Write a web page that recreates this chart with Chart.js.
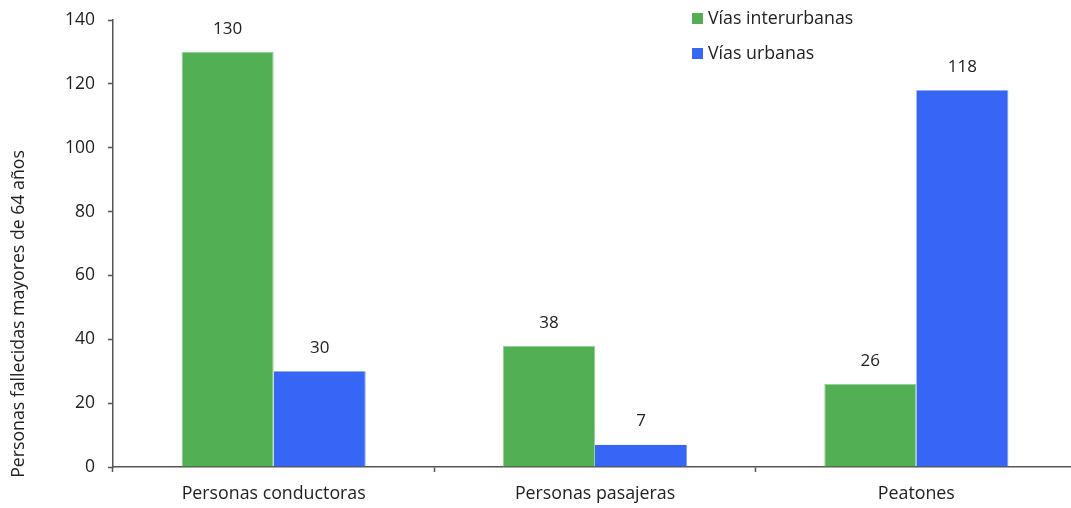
<!DOCTYPE html>
<html>
<head>
<meta charset="utf-8">
<script src="https://cdn.jsdelivr.net/npm/chart.js@4.4.0/dist/chart.umd.min.js"></script>
<style>
    html, body { margin: 0; padding: 0; background: #fff; overflow: hidden; }
    #wrap { position: relative; width: 1077px; height: 508px; }
</style>
</head>
<body>
<div id="wrap"><canvas id="chart" width="1077" height="508"></canvas></div>
<script>
// chart data
const categories = ['Personas conductoras', 'Personas pasajeras', 'Peatones'];
const seriesNames = ['Vías interurbanas', 'Vías urbanas'];
const interurbanas = [130, 38, 26];
const urbanas = [30, 7, 118];
const yTicks = [0, 20, 40, 60, 80, 100, 120, 140];
const yTitle = 'Personas fallecidas mayores de 64 años';

const FONT = '"Open Sans", sans-serif';
const TEXT = '#222';
const AXIS = '#555';

// value labels above each bar
const valueLabels = {
    id: 'valueLabels',
    afterDatasetsDraw(chart) {
        const ctx = chart.ctx;
        ctx.save();
        ctx.font = '17px ' + FONT;
        ctx.fillStyle = TEXT;
        ctx.textAlign = 'center';
        ctx.textBaseline = 'middle';
        chart.data.datasets.forEach((ds, i) => {
            chart.getDatasetMeta(i).data.forEach((bar, j) => {
                ctx.fillText(String(ds.data[j]), bar.x, bar.y - 23);
            });
        });
        ctx.restore();
    }
};

// y title sits a bit below the plot middle, so draw it ourselves
const sideTitle = {
    id: 'sideTitle',
    afterDraw(chart) {
        const ctx = chart.ctx;
        ctx.save();
        ctx.translate(19, 314);
        ctx.rotate(-Math.PI / 2);
        ctx.font = '17.7px ' + FONT;
        ctx.fillStyle = TEXT;
        ctx.textAlign = 'center';
        ctx.textBaseline = 'middle';
        ctx.fillText(yTitle, 0, 0);
        ctx.restore();
    }
};

// legend in the top right, stacked
const sideLegend = {
    id: 'sideLegend',
    afterDraw(chart) {
        const ctx = chart.ctx;
        ctx.save();
        ctx.font = '17.8px ' + FONT;
        ctx.textBaseline = 'middle';
        chart.data.datasets.forEach((ds, i) => {
            const y = 18.5 + i * 35;
            ctx.fillStyle = ds.backgroundColor;
            ctx.fillRect(692, y - 5.5, 11, 11);
            ctx.fillStyle = TEXT;
            ctx.fillText(ds.label, 708, y);
        });
        ctx.restore();
    }
};

const ctx = document.getElementById('chart').getContext('2d');
new Chart(ctx, {
    type: 'bar',
    data: {
        labels: categories,
        datasets: [{
            label: seriesNames[0],
            data: interurbanas,
            backgroundColor: '#53AF53',
            borderColor: '#8fd59a',
            borderWidth: { left: 1, right: 1, top: 1, bottom: 0 },
            categoryPercentage: 0.573,
            barPercentage: 1
        }, {
            label: seriesNames[1],
            data: urbanas,
            backgroundColor: '#3766F6',
            borderColor: '#7d9cf5',
            borderWidth: { left: 0, right: 1, top: 0, bottom: 0 },
            categoryPercentage: 0.573,
            barPercentage: 1
        }]
    },
    options: {
        responsive: false,
        animation: false,
        layout: {
            padding: { left: 0, right: 0, top: 20, bottom: 0 }
        },
        plugins: {
            legend: { display: false },
            tooltip: { enabled: false }
        },
        scales: {
            x: {
                offset: true,
                grid: {
                    offset: true,
                    display: true,
                    drawOnChartArea: false,
                    drawTicks: true,
                    tickLength: 5,
                    tickColor: AXIS,
                    tickWidth: 1.5
                },
                border: { display: true, color: AXIS, width: 1.5 },
                ticks: {
                    color: TEXT,
                    font: { family: FONT, size: 17.8 },
                    padding: 11,
                    maxRotation: 0
                },
                afterFit(scale) {
                    scale.height = 41;
                    scale.paddingLeft = 0;
                    scale.paddingRight = 0;
                }
            },
            y: {
                min: 0,
                max: 140,
                afterBuildTicks(scale) {
                    scale.ticks = yTicks.map(v => ({ value: v }));
                },
                grid: {
                    display: true,
                    drawOnChartArea: false,
                    drawTicks: true,
                    tickLength: 5,
                    tickColor: AXIS,
                    tickWidth: 1.5
                },
                border: { display: true, color: AXIS, width: 1.5 },
                ticks: {
                    color: TEXT,
                    font: { family: FONT, size: 17.5 },
                    padding: 13
                },
                afterFit(scale) {
                    scale.width = 113;
                    scale.paddingTop = 0;
                    scale.paddingBottom = 0;
                }
            }
        }
    },
    plugins: [valueLabels, sideTitle, sideLegend]
});
</script>
</body>
</html>
